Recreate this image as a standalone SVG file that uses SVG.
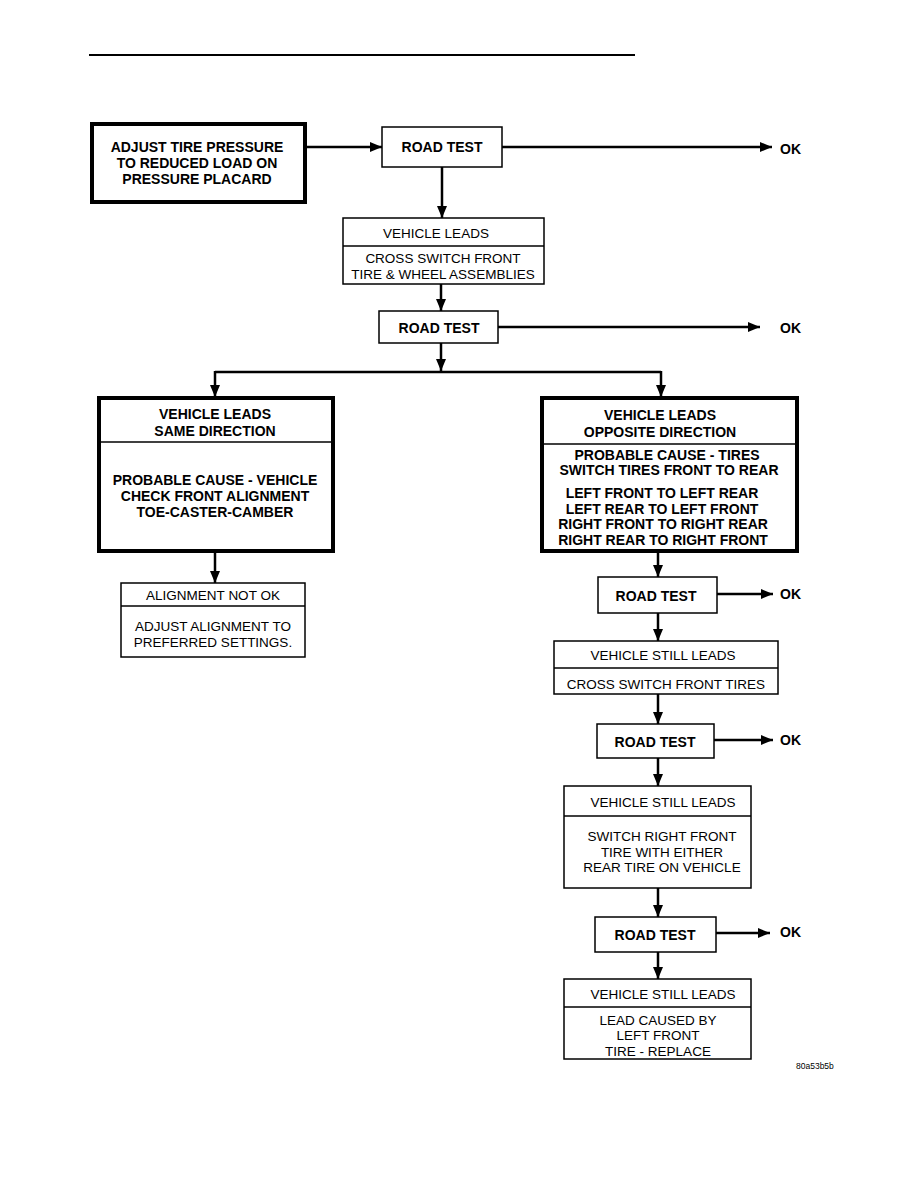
<svg xmlns="http://www.w3.org/2000/svg" width="918" height="1188" viewBox="0 0 918 1188">
<style>
.bx{fill:#fff;stroke:#000;stroke-width:1.5}
.tk{fill:#fff;stroke:#000;stroke-width:4}
.dv{stroke:#000;stroke-width:1.3}
.cn{fill:none;stroke:#000;stroke-width:2.5}
.b{font-family:"Liberation Sans",Arial,sans-serif;font-weight:bold;font-size:14px;fill:#000;text-anchor:middle}
.r{font-family:"Liberation Sans",Arial,sans-serif;font-size:13.5px;fill:#000;text-anchor:middle}
.ok{font-family:"Liberation Sans",Arial,sans-serif;font-weight:bold;font-size:14px;fill:#000}
</style>
<defs>
<marker id="ah" markerUnits="userSpaceOnUse" markerWidth="13" markerHeight="10" refX="12" refY="5" orient="auto">
<path d="M0,0 L12,5 L0,10 z" fill="#000"/>
</marker>
</defs>
<rect width="918" height="1188" fill="#fff"/>
<line x1="89" y1="55" x2="635" y2="55" stroke="#000" stroke-width="2"/>

<g id="connectors" class="cn" marker-end="url(#ah)">
<path d="M306,147 H382"/>
<path d="M502,147 H772"/>
<path d="M442,167 V218"/>
<path d="M441,284 V311"/>
<path d="M498,327 H760"/>
<path d="M441,343 V371"/>
<path d="M215,372 H661" marker-end="none"/>
<path d="M215,371 V397"/>
<path d="M661,371 V397"/>
<path d="M215,552 V583"/>
<path d="M658,552 V577"/>
<path d="M717,594 H773"/>
<path d="M658,613 V641"/>
<path d="M658,694 V724"/>
<path d="M714,740 H773"/>
<path d="M658,758 V786"/>
<path d="M658,888 V917"/>
<path d="M716,933 H770"/>
<path d="M658,952 V979"/>
</g>

<g id="start">
<rect class="tk" x="92" y="124" width="213" height="78" stroke-width="3.5"/>
<text class="b" x="197" y="152">ADJUST TIRE PRESSURE</text>
<text class="b" x="197" y="168">TO REDUCED LOAD ON</text>
<text class="b" x="197" y="184">PRESSURE PLACARD</text>
</g>

<g id="roadtest1">
<rect class="bx" x="382" y="127" width="120" height="40"/>
<text class="b" x="442" y="152">ROAD TEST</text>
</g>
<g id="ok1"><text class="ok" x="780" y="154">OK</text></g>

<g id="leads1">
<rect class="bx" x="343" y="218" width="201" height="66"/>
<line class="dv" x1="343" y1="246" x2="544" y2="246"/>
<text class="r" x="436" y="238">VEHICLE LEADS</text>
<text class="r" x="443" y="263">CROSS SWITCH FRONT</text>
<text class="r" x="443" y="279">TIRE &amp; WHEEL ASSEMBLIES</text>
</g>

<g id="roadtest2">
<rect class="bx" x="379" y="311" width="119" height="32"/>
<text class="b" x="439" y="333">ROAD TEST</text>
</g>
<g id="ok2"><text class="ok" x="780" y="333">OK</text></g>

<g id="same">
<rect class="tk" x="99" y="398" width="234" height="153"/>
<line class="dv" x1="99" y1="442" x2="333" y2="442"/>
<text class="b" x="215" y="419">VEHICLE LEADS</text>
<text class="b" x="215" y="436">SAME DIRECTION</text>
<text class="b" x="215" y="485">PROBABLE CAUSE - VEHICLE</text>
<text class="b" x="215" y="501">CHECK FRONT ALIGNMENT</text>
<text class="b" x="215" y="517">TOE-CASTER-CAMBER</text>
</g>

<g id="opposite">
<rect class="tk" x="542" y="398" width="255" height="153"/>
<line class="dv" x1="542" y1="444" x2="797" y2="444"/>
<text class="b" x="660" y="420">VEHICLE LEADS</text>
<text class="b" x="660" y="437">OPPOSITE DIRECTION</text>
<text class="b" x="667" y="460">PROBABLE CAUSE - TIRES</text>
<text class="b" x="669" y="475">SWITCH TIRES FRONT TO REAR</text>
<text class="b" x="662" y="498">LEFT FRONT TO LEFT REAR</text>
<text class="b" x="662" y="514">LEFT REAR TO LEFT FRONT</text>
<text class="b" x="663" y="529">RIGHT FRONT TO RIGHT REAR</text>
<text class="b" x="663" y="545">RIGHT REAR TO RIGHT FRONT</text>
</g>

<g id="alignment">
<rect class="bx" x="121" y="583" width="184" height="74"/>
<line class="dv" x1="121" y1="606" x2="305" y2="606"/>
<text class="r" x="213" y="600">ALIGNMENT NOT OK</text>
<text class="r" x="213" y="631">ADJUST ALIGNMENT TO</text>
<text class="r" x="213" y="647">PREFERRED SETTINGS.</text>
</g>

<g id="roadtest3">
<rect class="bx" x="598" y="577" width="119" height="36"/>
<text class="b" x="656" y="601">ROAD TEST</text>
</g>
<g id="ok3"><text class="ok" x="780" y="599">OK</text></g>

<g id="still1">
<rect class="bx" x="554" y="641" width="224" height="53"/>
<line class="dv" x1="554" y1="668" x2="778" y2="668"/>
<text class="r" x="663" y="660">VEHICLE STILL LEADS</text>
<text class="r" x="666" y="689">CROSS SWITCH FRONT TIRES</text>
</g>

<g id="roadtest4">
<rect class="bx" x="597" y="724" width="117" height="34"/>
<text class="b" x="655" y="747">ROAD TEST</text>
</g>
<g id="ok4"><text class="ok" x="780" y="745">OK</text></g>

<g id="still2">
<rect class="bx" x="564" y="786" width="187" height="102"/>
<line class="dv" x1="564" y1="816" x2="751" y2="816"/>
<text class="r" x="663" y="807">VEHICLE STILL LEADS</text>
<text class="r" x="662" y="841">SWITCH RIGHT FRONT</text>
<text class="r" x="662" y="857">TIRE WITH EITHER</text>
<text class="r" x="662" y="872">REAR TIRE ON VEHICLE</text>
</g>

<g id="roadtest5">
<rect class="bx" x="595" y="917" width="121" height="35"/>
<text class="b" x="655" y="940">ROAD TEST</text>
</g>
<g id="ok5"><text class="ok" x="780" y="937">OK</text></g>

<g id="still3">
<rect class="bx" x="564" y="979" width="187" height="80"/>
<line class="dv" x1="564" y1="1007" x2="751" y2="1007"/>
<text class="r" x="663" y="999">VEHICLE STILL LEADS</text>
<text class="r" x="658" y="1025">LEAD CAUSED BY</text>
<text class="r" x="658" y="1040">LEFT FRONT</text>
<text class="r" x="658" y="1056">TIRE - REPLACE</text>
</g>

<text x="796" y="1069" font-family="'Liberation Sans',Arial,sans-serif" font-size="8.5" fill="#000">80a53b5b</text>
</svg>
